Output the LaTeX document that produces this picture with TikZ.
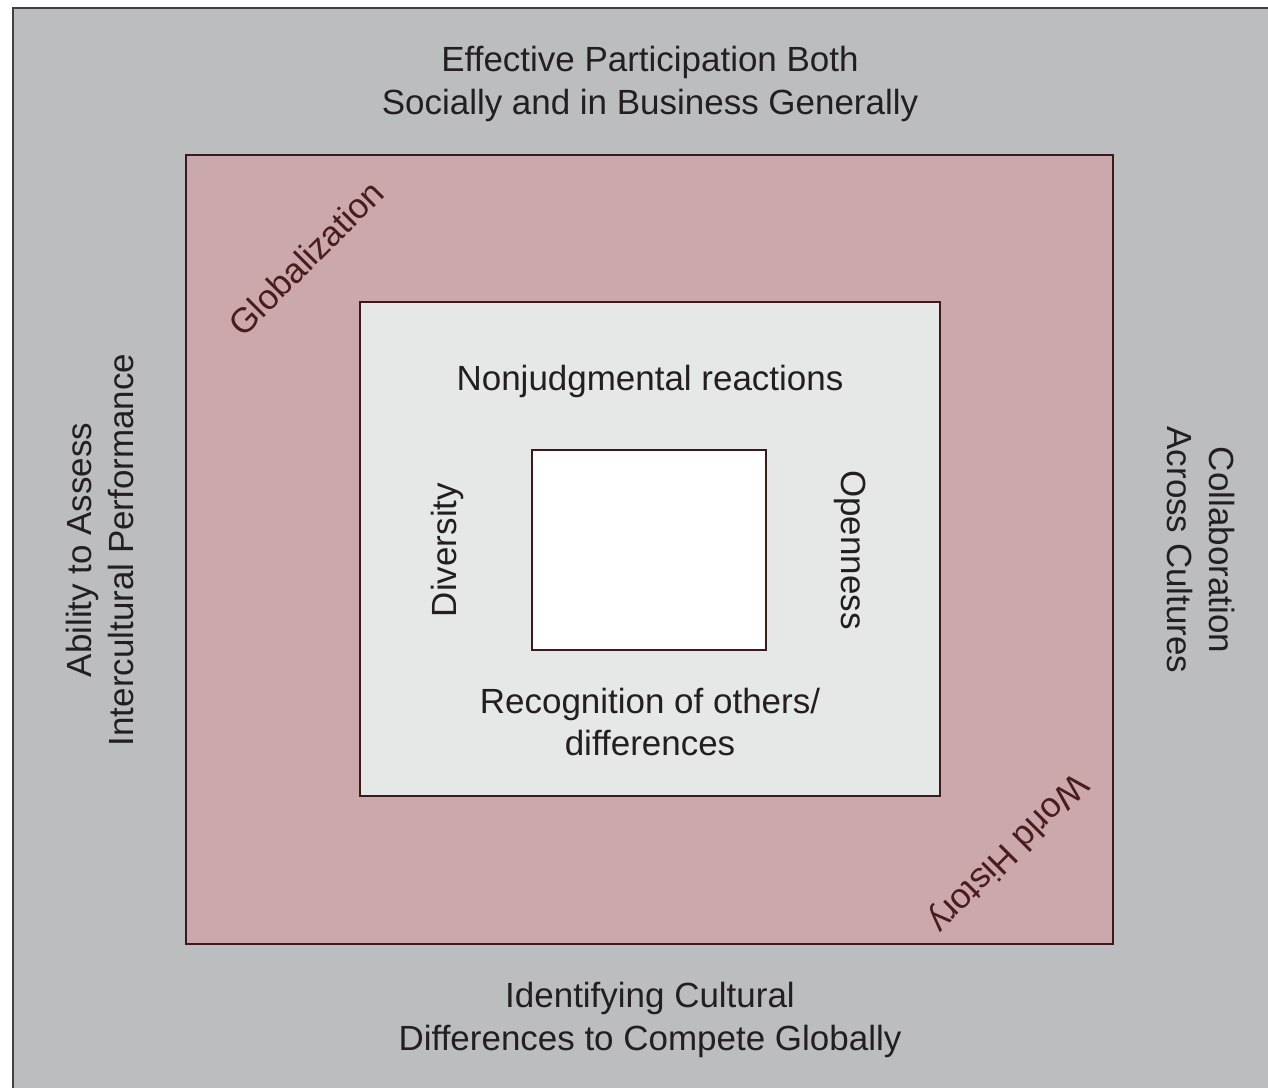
\documentclass[tikz,border=0pt]{standalone}
\usepackage{fontspec}
\setmainfont{Liberation Sans}
\usepackage{tikz}
\usetikzlibrary{shapes}
\definecolor{outergray}{HTML}{BCBDBF}
\definecolor{rosebox}{HTML}{CBA8AB}
\definecolor{palebox}{HTML}{E6E7E7}
\definecolor{edgedark}{HTML}{3A1A1C}
\definecolor{inkgray}{HTML}{231F20}
\definecolor{inkred}{HTML}{4A1C1E}

\begin{document}
\begin{tikzpicture}[x=0.02cm,y=-0.02cm,
  box/.style={draw=edgedark,line width=1.3pt,inner sep=0pt},
  lbl/.style={text=inkgray,align=center,font=\fontsize{19.9}{24}\selectfont},
  tilt/.style={text=inkred,font=\fontsize{19.9}{24}\selectfont}]
\useasboundingbox (0,0) rectangle (1268,1088);
\clip (0,0) rectangle (1268,1088);
\node (Back) at (644,555)[box,draw=black!75,fill=outergray,minimum width=25.24cm,minimum height=21.88cm] {};
\node (Global) at (649.5,549.5)[box,fill=rosebox,minimum width=18.54cm,minimum height=15.78cm] {};
\node (Core) at (650,549)[box,fill=palebox,minimum width=11.6cm,minimum height=9.88cm] {};
\node (Self) at (649,550)[box,fill=white,minimum width=4.68cm,minimum height=4cm] {};
% outer ring
\node (Top) at (650,84)[lbl] {Effective Participation Both\\Socially and in Business Generally};
\node (Bottom) at (650,1020)[lbl] {Identifying Cultural\\Differences to Compete Globally};
\node (Left) at (100,550)[lbl,rotate=90] {Ability to Assess\\Intercultural Performance};
\node (Right) at (1201,550)[lbl,rotate=-90] {Collaboration\\Across Cultures};
% middle ring
\node (Glob) at (306,258)[tilt,rotate=45] {Globalization};
\node (Hist) at (1007,852)[tilt,rotate=225] {World History};
% inner ring
\node (Nonj) at (650,381)[lbl] {Nonjudgmental reactions};
\node (Recog) at (650,722)[lbl] {Recognition of others/\\differences};
\node (Div) at (447,550)[lbl,rotate=90] {Diversity};
\node (Open) at (850,550)[lbl,rotate=-90] {Openness};
\end{tikzpicture}
\end{document}
